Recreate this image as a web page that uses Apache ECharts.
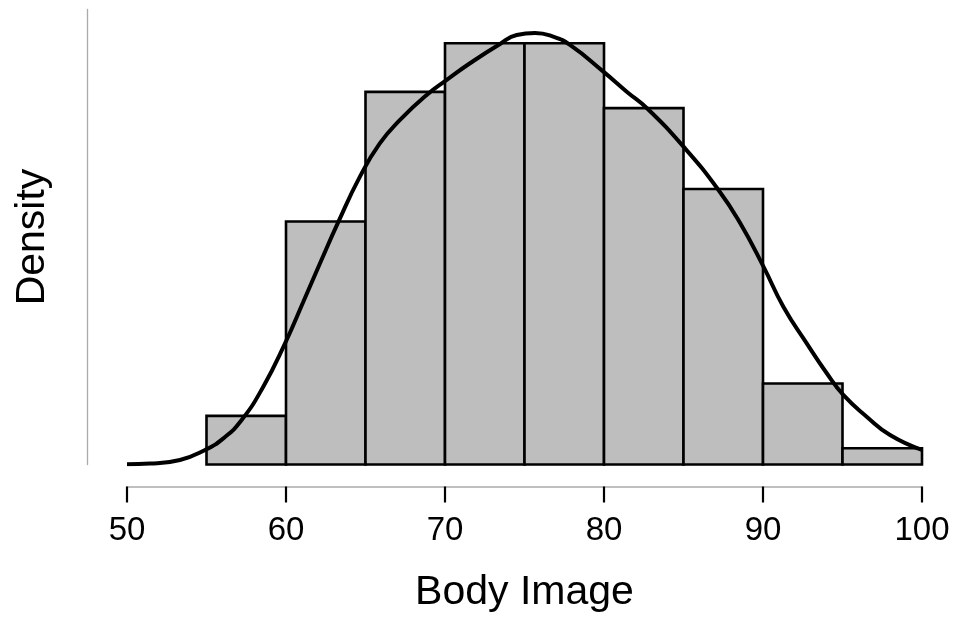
<!DOCTYPE html>
<html>
<head>
<meta charset="utf-8">
<script src="https://cdn.jsdelivr.net/npm/echarts@6/dist/echarts.min.js"></script>
<style>html,body{margin:0;padding:0;background:#fff}#c{width:957px;height:624px}</style>
</head>
<body>
<div id="c"></div>
<script>
// Histogram bins (Body Image) and density heights
var binStarts = [55, 60, 65, 70, 75, 80, 85, 90, 95];
var binEnds   = [60, 65, 70, 75, 80, 85, 90, 95, 100];
var binDensity = [0.00435, 0.02174, 0.03333, 0.03768, 0.03768, 0.03188, 0.02464, 0.00725, 0.00145];

// Kernel density curve
var curveX = [50, 51.45, 53.33, 54.91, 56.06, 57.21, 58.57, 59.94, 61.09, 62.14, 63.3, 64.65, 65.91, 67.17, 68.85, 70.11, 71.57, 73.46, 74.51, 75.66, 76.81, 77.86, 79.96, 81.43, 82.7, 85.0, 87.2, 88.57, 90.03, 91.28, 92.75, 94.01, 95.05, 96.52, 97.99, 100];
var curveY = [0.00003, 0.00008, 0.0004, 0.0013, 0.00234, 0.00398, 0.00696, 0.01084, 0.01456, 0.0180, 0.02172, 0.02575, 0.02874, 0.03082, 0.03306, 0.0344, 0.03589, 0.03762, 0.03842, 0.0386, 0.03827, 0.03753, 0.03514, 0.03335, 0.03187, 0.02843, 0.02456, 0.02158, 0.0177, 0.01412, 0.01084, 0.00816, 0.00622, 0.00428, 0.00264, 0.0013];

var xTicks = [50, 60, 70, 80, 90, 100];

var barData = binStarts.map(function (s, i) { return [s, binEnds[i], binDensity[i]]; });
var curveData = curveX.map(function (x, i) { return [x, curveY[i]]; });

var chart = echarts.init(document.getElementById('c'), null, { renderer: 'canvas' });
var font = '"Liberation Sans", Arial, sans-serif';
chart.setOption({
  animation: false,
  backgroundColor: '#ffffff',
  grid: { left: 127, right: 35, top: 9.5, bottom: 159.5 },
  xAxis: {
    type: 'value', min: 50, max: 100, interval: 10,
    offset: 22,
    name: 'Body Image', nameLocation: 'middle', nameGap: 86,
    nameTextStyle: { fontFamily: font, fontSize: 41, color: '#000' },
    axisLine: { show: true, onZero: false, lineStyle: { color: '#aaaaaa', width: 1.5 } },
    axisTick: { show: true, length: 16, lineStyle: { color: '#000', width: 2.2 } },
    axisLabel: { fontFamily: font, fontSize: 33, color: '#000', margin: 28,
      formatter: function (v) { return xTicks.indexOf(v) >= 0 ? String(v) : ''; } },
    splitLine: { show: false }
  },
  yAxis: {
    type: 'value', min: 0, max: 0.0407,
    offset: 40,
    name: 'Density', nameLocation: 'middle', nameGap: 34, nameRotate: 90,
    nameTextStyle: { fontFamily: font, fontSize: 41, color: '#000' },
    axisLine: { show: true, onZero: false, lineStyle: { color: '#aaaaaa', width: 1.3 } },
    axisTick: { show: false },
    axisLabel: { show: false },
    splitLine: { show: false }
  },
  series: [
    {
      type: 'custom',
      data: barData,
      encode: { x: [0, 1], y: 2 },
      renderItem: function (params, api) {
        var p0 = api.coord([api.value(0), 0]);
        var p1 = api.coord([api.value(1), api.value(2)]);
        return {
          type: 'rect',
          shape: { x: p0[0], y: p1[1], width: p1[0] - p0[0], height: p0[1] - p1[1] },
          style: { fill: '#bebebe', stroke: '#000', lineWidth: 2.6 }
        };
      },
      z: 2
    },
    {
      type: 'line',
      data: curveData,
      smooth: 0.5,
      showSymbol: false,
      symbol: 'none',
      lineStyle: { color: '#000', width: 4 },
      z: 3
    }
  ]
});
</script>
</body>
</html>
